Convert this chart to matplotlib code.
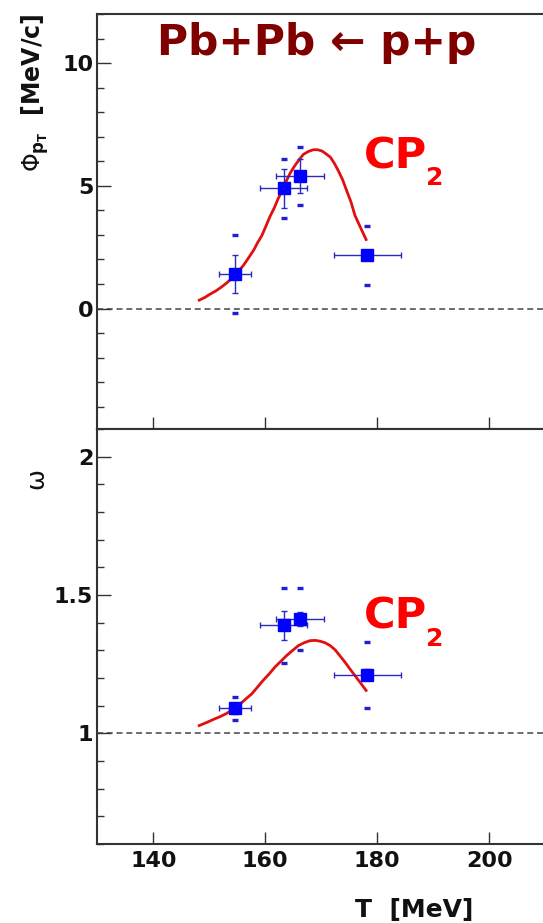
import numpy as np
import matplotlib
matplotlib.use("Agg")
import matplotlib.pyplot as plt
from matplotlib.ticker import MultipleLocator

# ---------------- data ----------------
T = [154.6, 163.3, 166.2, 178.2]
T_err = [2.8, 4.2, 4.2, 6.0]

phi = [1.40, 4.89, 5.40, 2.17]
phi_stat = [0.78, 0.81, 0.70, 0.20]
phi_sys = [1.59, 1.20, 1.20, 1.20]

omega = [1.091, 1.390, 1.413, 1.211]
omega_stat = [0.02, 0.053, 0.025, 0.02]
omega_sys = [0.042, 0.134, 0.113, 0.12]

curve_T_phi = [148.2, 149.2, 150.1, 151.2, 152.2, 153.2, 154.3, 155.2, 156.1, 157.0,
               157.9, 158.6, 159.4, 160.1, 160.8, 161.6, 162.3, 163.1, 163.8, 164.5,
               165.3, 166.1, 166.8, 167.7, 168.6, 169.3, 170.1, 170.8, 171.6, 172.3,
               173.0, 173.8, 174.5, 175.3, 176.0, 177.0, 178.0]
curve_phi = [0.34, 0.45, 0.58, 0.72, 0.88, 1.06, 1.29, 1.52, 1.76, 2.06,
             2.37, 2.67, 2.98, 3.35, 3.73, 4.10, 4.48, 4.85, 5.22, 5.54,
             5.83, 6.08, 6.28, 6.40, 6.47, 6.47, 6.42, 6.31, 6.17, 5.93,
             5.63, 5.25, 4.82, 4.34, 3.80, 3.30, 2.81]

curve_T_om = [148.2, 149.5, 150.7, 151.9, 153.1, 154.3, 155.5, 156.5, 157.6, 158.6,
              159.6, 160.7, 161.7, 162.8, 163.8, 164.9, 165.9, 167.0, 168.0, 168.9,
              169.8, 170.7, 171.6, 172.5, 173.3, 174.2, 175.1, 176.0, 176.9, 178.0]
curve_om = [1.028, 1.039, 1.050, 1.060, 1.072, 1.088, 1.106, 1.124, 1.143, 1.167,
            1.191, 1.215, 1.239, 1.261, 1.281, 1.300, 1.317, 1.328, 1.335, 1.336,
            1.333, 1.327, 1.317, 1.301, 1.281, 1.258, 1.233, 1.209, 1.185, 1.155]

x_ticks = [140, 160, 180, 200]
title_text = "Pb+Pb \u2190 p+p"
curve_label = "CP"
curve_label_sub = "2"

# ---------------- figure ----------------
W, H = 543, 923
fig = plt.figure(figsize=(W / 100, H / 100), dpi=100)

def fx(x):
    return x / W

def fy(y):
    return 1 - y / H

left = fx(97.3)
width = 504 / W
ax_top = fig.add_axes([left, fy(429), width, 415 / H])
ax_bot = fig.add_axes([left, fy(844), width, 415 / H])

spine_col = "#333333"
pt_col = "#0000ff"
err_col = "#2b2bc0"
curve_col = "#e01010"

def style(ax):
    for s in ax.spines.values():
        s.set_color(spine_col)
        s.set_linewidth(1.5)
    ax.tick_params(axis="both", which="both", direction="in", color=spine_col,
                   top=False, right=False, width=1.0)
    ax.tick_params(axis="y", which="major", length=10, pad=3)
    ax.tick_params(axis="y", which="minor", length=5)
    ax.tick_params(axis="x", which="major", length=8.6, pad=5)
    ax.set_xlim(130, 220)
    ax.set_xticks(x_ticks)
    for lab in ax.get_xticklabels() + ax.get_yticklabels():
        lab.set_fontfamily("DejaVu Sans")
        lab.set_fontweight("bold")
        lab.set_fontsize(16)
        lab.set_color("#111111")

def draw(ax, y, ystat, ysys, cx, cy, ref):
    ax.axhline(ref, color="#444444", lw=1.1, ls=(0, (3.9, 2.5)), zorder=1)
    ax.plot(cx, cy, color=curve_col, lw=2.0, zorder=2, solid_joinstyle="round")
    ax.errorbar(T, y, xerr=T_err, yerr=ystat, fmt="s", ms=8.6, mfc=pt_col,
                mec=pt_col, ecolor=err_col, elinewidth=1.0, capsize=2.5,
                capthick=1.0, zorder=3)
    yup = [a + b for a, b in zip(y, ysys)]
    ydn = [a - b for a, b in zip(y, ysys)]
    for yy in (yup, ydn):
        ax.plot(T, yy, ls="none", marker="_", ms=4.5, mew=2.4, color="#2020d0", zorder=3)

# top panel
draw(ax_top, phi, phi_stat, phi_sys, curve_T_phi, curve_phi, 0)
ax_top.set_ylim(-4.91, 12)
ax_top.yaxis.set_major_locator(MultipleLocator(5))
ax_top.yaxis.set_minor_locator(MultipleLocator(1))
style(ax_top)
ax_top.set_xticklabels([])

# bottom panel
draw(ax_bot, omega, omega_stat, omega_sys, curve_T_om, curve_om, 1)
ax_bot.set_ylim(0.6, 2.1)
ax_bot.set_yticks([1, 1.5, 2])
ax_bot.set_yticklabels(["1", "1.5", "2"])
ax_bot.yaxis.set_minor_locator(MultipleLocator(0.1))
style(ax_bot)

# texts
fig.text(fx(156.7), fy(55), title_text, color="#800000", fontsize=30.5,
         fontweight="bold", family="DejaVu Sans", ha="left", va="baseline")

for base_cp, base_sub in ((168.3, 185.0), (628.3, 646.0)):
    fig.text(fx(364), fy(base_cp), curve_label, color="#ff0000", fontsize=31,
             fontweight="bold", family="DejaVu Sans", ha="left", va="baseline")
    fig.text(fx(426.5), fy(base_sub), curve_label_sub, color="#ff0000", fontsize=18,
             fontweight="bold", family="DejaVu Sans", ha="left", va="baseline")

fig.text(fx(41), fy(14), r"$\Phi_{\mathbf{p}_{\mathbf{T}}}$  [MeV/c]", rotation=90,
         rotation_mode="anchor", ha="right", va="baseline", fontsize=17,
         fontweight="bold", family="DejaVu Sans", color="#111111")
fig.text(fx(43), fy(468), "\u03c9", rotation=90, rotation_mode="anchor",
         ha="right", va="baseline", fontsize=18, family="DejaVu Sans", color="#111111")

fig.text(fx(473), fy(917), "T  [MeV]", ha="right", va="baseline", fontsize=18,
         fontweight="bold", family="DejaVu Sans", color="#111111")

fig.savefig("out.png", dpi=100)
